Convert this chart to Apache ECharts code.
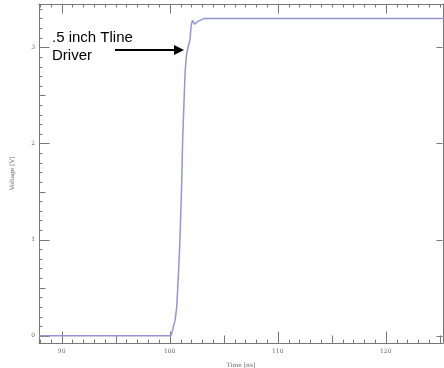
<!DOCTYPE html>
<html>
<head>
<meta charset="utf-8">
<script src="https://cdn.jsdelivr.net/npm/echarts@6.0.0/dist/echarts.min.js"></script>
<style>
  html, body { margin: 0; padding: 0; background: #fff; }
  #chart { width: 444px; height: 368px; }
</style>
</head>
<body>
<div id="chart"></div>
<script>
// waveform
const timeNs = [87.9, 100.1, 100.2, 100.35, 100.5, 100.65, 100.8, 100.95, 101.1, 101.2, 101.32, 101.42, 101.55, 101.7, 101.88, 101.98, 102.1, 102.2, 102.32, 102.45, 102.6, 102.75, 103.2, 104, 125.4];
const voltageV = [0, 0, 0.03, 0.1, 0.16, 0.3, 0.62, 1.0, 1.55, 2.04, 2.42, 2.73, 2.92, 3.0, 3.08, 3.22, 3.28, 3.27, 3.24, 3.24, 3.27, 3.29, 3.3, 3.3, 3.3];

// tick labels
const xLabels = [90, 100, 110, 120];
const yLabels = [0, 1, 2, 3];

const X_MIN = 87.9, X_MAX = 125.3;
const Y_MIN = -0.075, Y_MAX = 3.45;
const axisColor = '#777';
const tickFont = { fontFamily: 'DejaVu Serif', fontSize: 6, color: '#666' };

function frameAxis(kind, position, labels) {
  return {
    type: 'value',
    position: position,
    min: kind === 'x' ? X_MIN : Y_MIN,
    max: kind === 'x' ? X_MAX : Y_MAX,
    axisLine: { show: true, onZero: false, lineStyle: { color: axisColor, width: 1 } },
    axisTick: { show: false },
    axisLabel: labels
      ? Object.assign({ show: true, customValues: labels, margin: kind === 'x' ? 5 : 4 }, tickFont)
      : { show: false },
    splitLine: { show: false }
  };
}

const xMain = frameAxis('x', 'bottom', xLabels);
xMain.name = 'Time [ns]';
xMain.nameLocation = 'middle';
xMain.nameGap = 19;
xMain.nameTextStyle = { fontFamily: 'DejaVu Serif', fontSize: 6, color: '#666' };

const yMain = frameAxis('y', 'left', yLabels);
yMain.name = 'Voltage [V]';
yMain.nameLocation = 'middle';
yMain.nameGap = 24;
yMain.nameTextStyle = { fontFamily: 'DejaVu Serif', fontSize: 6, color: '#666' };

const chart = echarts.init(document.getElementById('chart'));
chart.setOption({
  backgroundColor: '#fff',
  animation: false,
  grid: { left: 39, top: 4, right: 1, bottom: 25, outerBoundsMode: 'none' },
  xAxis: [xMain, frameAxis('x', 'top')],
  yAxis: [yMain, frameAxis('y', 'right')],
  series: [{
    type: 'line',
    xAxisIndex: 0,
    yAxisIndex: 0,
    data: timeNs.map((t, i) => [t, voltageV[i]]),
    showSymbol: false,
    lineStyle: { color: '#9494d6', width: 1.5 }
  }]
});

// inward ticks on the frame, placed through the axis scales
const px = v => chart.convertToPixel({ xAxisIndex: 0 }, v);
const py = v => chart.convertToPixel({ yAxisIndex: 0 }, v);
const yBottom = Math.round(py(Y_MIN)) + 0.5, yTop = Math.round(py(Y_MAX)) + 0.5;
const xLeft = Math.round(px(X_MIN)) + 0.5, xRight = Math.round(px(X_MAX)) - 0.5;
const tickStyle = { stroke: axisColor, lineWidth: 1 };
const ticks = [];

for (let t = 88; t <= 125; t++) {
  const x = Math.round(px(t)) + 0.5;
  const lenB = t % 10 === 0 ? 12 : (t % 5 === 0 ? 8 : 4);
  const lenT = t % 10 === 0 ? 9 : 3;
  ticks.push({ type: 'line', silent: true, shape: { x1: x, y1: yBottom, x2: x, y2: yBottom - lenB }, style: tickStyle });
  ticks.push({ type: 'line', silent: true, shape: { x1: x, y1: yTop, x2: x, y2: yTop + lenT }, style: tickStyle });
}
for (let i = 0; i <= 34; i++) {
  const y = Math.round(py(i / 10)) + 0.5;
  const lenL = i % 10 === 0 ? 10 : (i % 5 === 0 ? 6 : 3);
  ticks.push({ type: 'line', silent: true, shape: { x1: xLeft, y1: y, x2: xLeft + lenL, y2: y }, style: tickStyle });
  if (i % 10 === 0) {
    ticks.push({ type: 'line', silent: true, shape: { x1: xRight, y1: y, x2: xRight - 6, y2: y }, style: tickStyle });
  }
}

chart.setOption({
  graphic: ticks.concat([
    {
      type: 'text',
      left: 52,
      top: 29,
      style: {
        text: '.5 inch Tline\nDriver',
        font: '15px "Liberation Sans", Arial, sans-serif',
        lineHeight: 18,
        fill: '#000'
      }
    },
    {
      type: 'line',
      shape: { x1: 115, y1: 50, x2: 176, y2: 50 },
      style: { stroke: '#000', lineWidth: 2 }
    },
    {
      type: 'polygon',
      shape: { points: [[174, 45], [184, 50], [174, 55]] },
      style: { fill: '#000' }
    }
  ])
});
</script>
</body>
</html>
